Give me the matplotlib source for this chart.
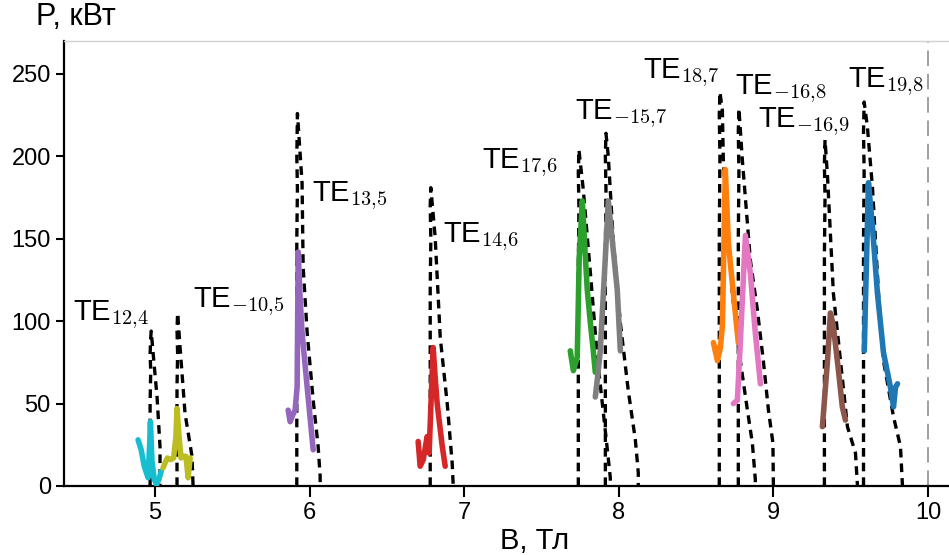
import matplotlib
matplotlib.use("Agg")
import matplotlib.pyplot as plt

plt.rcParams['font.family'] = ['Liberation Sans', 'DejaVu Sans']
plt.rcParams['mathtext.fontset'] = 'cm'

# ---- mode labels ----
labels = ["TE$_{12{,}4}$", "TE$_{-10{,}5}$", "TE$_{13{,}5}$", "TE$_{14{,}6}$", "TE$_{17{,}6}$",
          "TE$_{-15{,}7}$", "TE$_{18{,}7}$", "TE$_{-16{,}8}$", "TE$_{-16{,}9}$", "TE$_{19{,}8}$"]
label_B = [4.469, 5.246, 6.016, 6.864, 7.117, 7.718, 8.159, 8.754, 8.903, 9.485]
label_P = [100.7, 108.6, 173, 148, 193, 222.7, 247.6, 237.9, 217.8, 242]

colors = ['#17becf', '#bcbd22', '#9467bd', '#d62728', '#2ca02c',
          '#7f7f7f', '#ff7f0e', '#e377c2', '#8c564b', '#1f77b4']

# ---- calculated (dashed) curves ----
calc_B = [
    [4.968, 4.968, 4.972, 4.968, 4.972, 4.975, 4.99, 5.013, 5.032, 5.032],
    [5.142, 5.142, 5.146, 5.142, 5.146, 5.162, 5.194, 5.239, 5.246],
    [5.917, 5.917, 5.921, 5.917, 5.921, 5.951, 5.958, 5.984, 6.023, 6.055, 6.068, 6.068],
    [6.78, 6.78, 6.784, 6.78, 6.784, 6.812, 6.845, 6.890, 6.922, 6.929],
    [7.738, 7.738, 7.742, 7.738, 7.742, 7.770, 7.82, 7.861, 7.926, 7.945, 7.945],
    [7.913, 7.913, 7.917, 7.913, 7.917, 7.932, 7.964, 8.010, 8.061, 8.107, 8.126, 8.126],
    [8.650, 8.650, 8.654, 8.650, 8.654, 8.670, 8.676, 8.702, 8.734, 8.786, 8.832, 8.864, 8.883, 8.883],
    [8.773, 8.773, 8.777, 8.773, 8.777, 8.799, 8.851, 8.896, 8.935, 8.968, 8.997, 9.0],
    [9.330, 9.330, 9.334, 9.330, 9.334, 9.350, 9.388, 9.434, 9.479, 9.531, 9.544],
    [9.583, 9.583, 9.587, 9.583, 9.587, 9.608, 9.641, 9.680, 9.712, 9.777, 9.822, 9.835],
]
calc_P = [
    [0, 50, 70, 80, 90, 94, 78, 54, 24, 0],
    [0, 60, 80, 95, 105, 84, 44, 18, 0],
    [0, 150, 180, 200, 226, 184, 133, 93, 52, 24, 6, 0],
    [0, 120, 150, 170, 181, 151, 90, 50, 14, 0],
    [0, 130, 170, 190, 204, 180, 125, 78, 22, 5, 0],
    [0, 140, 180, 200, 214, 200, 149, 99, 58, 28, 8, 0],
    [0, 150, 200, 225, 239, 228, 198, 157, 117, 76, 46, 26, 4, 0],
    [0, 150, 190, 215, 229, 198, 137, 107, 76, 46, 26, 0],
    [0, 140, 175, 195, 210, 188, 117, 76, 36, 20, 0],
    [0, 150, 190, 215, 233, 218, 181, 117, 76, 42, 24, 0],
]

# ---- measured (solid) curves ----
meas_B = [
    [4.89, 4.91, 4.93, 4.955, 4.965, 4.97, 4.98, 4.995, 5.01, 5.025, 5.04],
    [5.052, 5.065, 5.08, 5.10, 5.12, 5.135, 5.142, 5.155, 5.168, 5.185, 5.20, 5.214, 5.227],
    [5.861, 5.874, 5.890, 5.906, 5.919, 5.926, 5.938, 5.951, 5.984, 6.023],
    [6.702, 6.715, 6.735, 6.760, 6.773, 6.785, 6.799, 6.812, 6.825, 6.858, 6.877],
    [7.686, 7.706, 7.731, 7.744, 7.764, 7.780, 7.796, 7.816, 7.835, 7.848],
    [7.848, 7.865, 7.880, 7.913, 7.932, 7.958, 7.990, 8.010],
    [8.612, 8.638, 8.657, 8.670, 8.689, 8.709, 8.741, 8.773],
    [8.741, 8.767, 8.786, 8.819, 8.851, 8.883, 8.916],
    [9.317, 9.35, 9.369, 9.388, 9.421, 9.446, 9.466],
    [9.588, 9.597, 9.615, 9.641, 9.673, 9.712, 9.757, 9.777, 9.790, 9.803],
]
meas_P = [
    [28, 22, 12, 5, 25, 39, 15, 4, 1, 4, 9],
    [11, 14, 17, 16, 17, 30, 47, 30, 17, 18, 18, 5, 17],
    [46, 39, 43, 46, 60, 142, 115, 93, 60, 22],
    [27, 12, 16, 30, 20, 50, 84, 66, 50, 24, 12],
    [82, 70, 78, 139, 173, 145, 119, 99, 82, 69],
    [54, 68, 82, 139, 173, 149, 119, 82],
    [87, 76, 84, 97, 192, 147, 117, 87],
    [50, 52, 87, 152, 129, 93, 62],
    [36, 76, 105, 97, 70, 48, 40],
    [82, 117, 184, 157, 117, 81, 60, 48, 60, 62],
]

x_ticks = [5, 6, 7, 8, 9, 10]
y_ticks = [0, 50, 100, 150, 200, 250]
B_limit = 10

fig = plt.figure(figsize=(9.49, 5.55), dpi=100)
ax = fig.add_axes([64 / 949, 69 / 555, 1 - 64 / 949, 445 / 555])

for b, p in zip(calc_B, calc_P):
    ax.plot(b, p, color='black', lw=2.4, dashes=(2.6, 1.8), zorder=2)
for b, p, c in zip(meas_B, meas_P, colors):
    ax.plot(b, p, color=c, lw=4.0, solid_capstyle='round', solid_joinstyle='round', zorder=3)

ax.axvline(B_limit, color='#a0a0a0', lw=1.4, dashes=(8, 4), zorder=1)

for t, bx, py in zip(labels, label_B, label_P):
    ax.text(bx, py, t, fontsize=21, ha='left', va='baseline', color='black')

ax.set_xlim(4.411, 10.136)
ax.set_ylim(0, 270)
ax.set_xticks(x_ticks)
ax.set_yticks(y_ticks)
ax.tick_params(axis='both', labelsize=17, width=1.5, length=6, direction='out')
ax.tick_params(axis='x', length=8)

for s in ['left', 'bottom']:
    ax.spines[s].set_linewidth(1.6)
    ax.spines[s].set_color('black')
ax.spines['top'].set_color('#d0d0d0')
ax.spines['top'].set_linewidth(1.0)
ax.spines['right'].set_visible(False)

fig.text(76 / 949, 1 - 17 / 555, "P, кВт", fontsize=22, ha='center', va='center')
fig.text(535 / 949, 1 - 541 / 555, "B, Тл", fontsize=21, ha='center', va='center')

fig.savefig("out.png", dpi=100)
